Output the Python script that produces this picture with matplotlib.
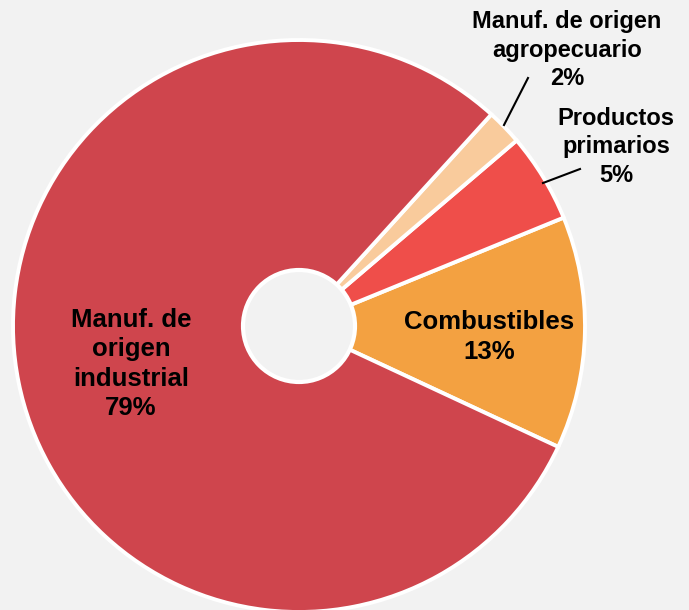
import matplotlib.pyplot as plt
from matplotlib.patches import Circle

# Export shares (%), in drawing order starting at the lower right
categories = ['Combustibles', 'Productos primarios', 'Manuf. de origen agropecuario',
              'Manuf. de origen industrial']
shares = [13, 5, 2, 79]
colors = ['#F3A141', '#EF4E4A', '#F9CB9C', '#CF454D']
labels = ['Combustibles\n13%', 'Productos\nprimarios\n5%',
          'Manuf. de origen\nagropecuario\n2%', 'Manuf. de\norigen\nindustrial\n79%']

bg = '#F2F2F2'
fig = plt.figure(figsize=(6.89, 6.10), dpi=100, facecolor=bg)
ax = fig.add_axes([0, 0, 1, 1])
ax.set_facecolor(bg)

# pixel-like coordinates: x 0..689, y 0..610 (bottom up)
cx, cy, r = 299, 284, 286
wedges, _ = ax.pie(shares, colors=colors, startangle=-25, counterclock=True,
                   center=(cx, cy), radius=r,
                   wedgeprops=dict(edgecolor='white', linewidth=2.8))
ax.add_patch(Circle((cx, cy), 56, facecolor=bg, edgecolor='white', linewidth=3, zorder=5))

ax.set_xlim(0, 689)
ax.set_ylim(0, 610)
ax.set_aspect('equal')
ax.axis('off')

font = dict(family=['Liberation Sans', 'DejaVu Sans'], weight='bold', color='black',
            ha='center', va='center', linespacing=1.28)

# labels inside the big slices
ax.text(489, 610 - 337, labels[0], fontsize=18.5, **font)
ax.text(131, 610 - 364, labels[3], fontsize=18.5, **font)

# outside labels with leader lines
ax.text(616, 610 - 147, labels[1], fontsize=17, **font)
ax.plot([543, 580], [610 - 183, 610 - 169], color='black', lw=1.5)
ax.text(567, 610 - 50, labels[2], fontsize=17, **font)
ax.plot([504, 528], [610 - 125, 610 - 78], color='black', lw=1.5)

fig.savefig('out.png', dpi=100, facecolor=bg)
